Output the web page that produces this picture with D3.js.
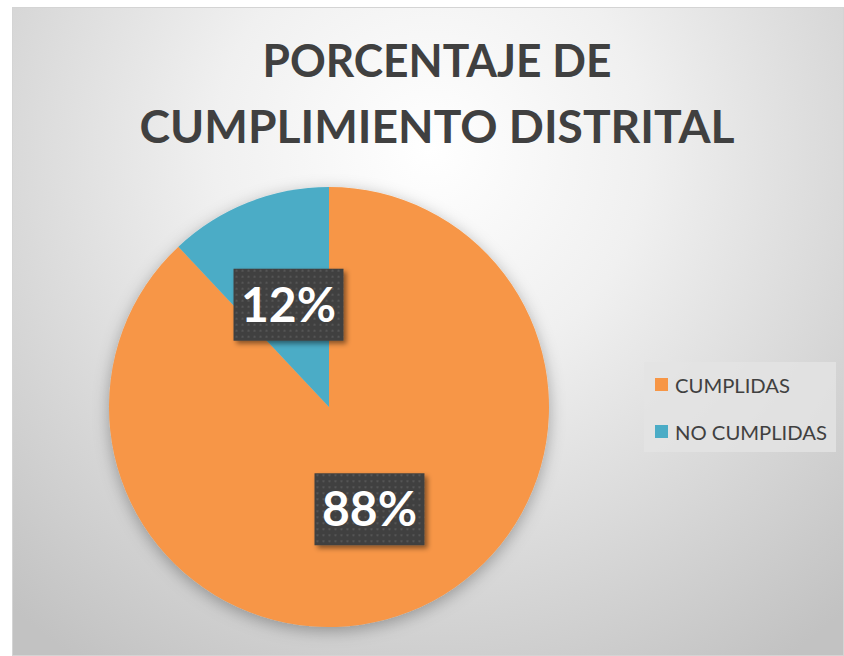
<!DOCTYPE html>
<html><head><meta charset="utf-8">
<script src="https://cdn.jsdelivr.net/npm/d3@7"></script>
<style>html,body{margin:0;padding:0;background:#fff;}svg{display:block;}</style>
</head><body>
<script>
const categories = ["CUMPLIDAS", "NO CUMPLIDAS"];
const values = [88, 12];
const labels = ["88%", "12%"];
const colors = ["#F79646", "#4BACC6"];
const titleLines = ["PORCENTAJE DE", "CUMPLIMIENTO DISTRITAL"];

const W = 844, H = 656;
const svg = d3.select("body").append("svg").attr("width", W).attr("height", H);
const defs = svg.append("defs");

const rg = defs.append("radialGradient").attr("id","bg").attr("gradientUnits","userSpaceOnUse")
  .attr("cx",430).attr("cy",150).attr("r",620);
rg.append("stop").attr("offset","0").attr("stop-color","#ffffff");
rg.append("stop").attr("offset","0.35").attr("stop-color","#f0f0f0");
rg.append("stop").attr("offset","1").attr("stop-color","#c2c2c2");

const pat = defs.append("pattern").attr("id","dots").attr("patternUnits","userSpaceOnUse")
  .attr("width",6).attr("height",6);
pat.append("rect").attr("width",6).attr("height",6).attr("fill","#404040");
pat.append("rect").attr("x",1).attr("y",1).attr("width",2).attr("height",2).attr("fill","#555555");

const sh = defs.append("filter").attr("id","shadow").attr("x","-20%").attr("y","-20%").attr("width","150%").attr("height","150%");
sh.append("feDropShadow").attr("dx",3).attr("dy",3).attr("stdDeviation",2.5).attr("flood-color","#000").attr("flood-opacity",0.45);
const psh = defs.append("filter").attr("id","pshadow").attr("x","-20%").attr("y","-20%").attr("width","140%").attr("height","140%");
psh.append("feDropShadow").attr("dx",0).attr("dy",4).attr("stdDeviation",8).attr("flood-color","#000").attr("flood-opacity",0.3);

svg.append("rect").attr("x",12.5).attr("y",7.5).attr("width",W-13).attr("height",H-8)
  .attr("fill","url(#bg)").attr("stroke","#d4d4d4").attr("stroke-width",1);

// title
const tW = [349, 595];
const tY = [77, 143];
titleLines.forEach((t,i)=>{
  svg.append("text").attr("x",437).attr("y",tY[i]).attr("text-anchor","middle")
    .attr("font-family","Lato, 'Open Sans', sans-serif").attr("font-weight","bold")
    .attr("font-size",46).attr("fill","#404040")
    .attr("textLength",tW[i]).attr("lengthAdjust","spacingAndGlyphs").text(t);
});

// pie
const cx = 329, cy = 407, R = 220;
const pie = d3.pie().sort(null).value(d=>d)(values);
const arc = d3.arc().innerRadius(0).outerRadius(R);
const g = svg.append("g").attr("transform",`translate(${cx},${cy})`);
g.append("g").attr("filter","url(#pshadow)").selectAll("path").data(pie).join("path")
  .attr("d",arc).attr("fill",(d,i)=>colors[i]);

const lblArc = d3.arc().innerRadius(R*0.5).outerRadius(R*0.5);
const bw = 110, bh = 72;
pie.forEach((d,i)=>{
  const [x,y] = lblArc.centroid(d);
  const lg = g.append("g").attr("transform",`translate(${x},${y})`);
  lg.append("rect").attr("x",-bw/2).attr("y",-bh/2).attr("width",bw).attr("height",bh)
    .attr("fill","url(#dots)").attr("filter","url(#shadow)");
  lg.append("text").attr("text-anchor","middle").attr("y",17)
    .attr("font-family","Lato, 'Open Sans', sans-serif").attr("font-weight","bold")
    .attr("font-size",48).attr("fill","#ffffff").text(labels[i]);
});

// legend
const legW = [115, 152];
const leg = svg.append("g");
leg.append("rect").attr("x",644).attr("y",362).attr("width",192).attr("height",90).attr("fill","#e4e4e4").attr("opacity",0.8);
categories.forEach((c,i)=>{
  const y = 385 + i*47;
  leg.append("rect").attr("x",655).attr("y",y-7).attr("width",13).attr("height",13).attr("fill",colors[i]);
  leg.append("text").attr("x",675).attr("y",y+7.5).attr("font-family","Lato, 'Open Sans', sans-serif")
    .attr("font-size",20).attr("fill","#404040")
    .attr("textLength",legW[i]).attr("lengthAdjust","spacingAndGlyphs").text(c);
});
</script>
</body></html>
